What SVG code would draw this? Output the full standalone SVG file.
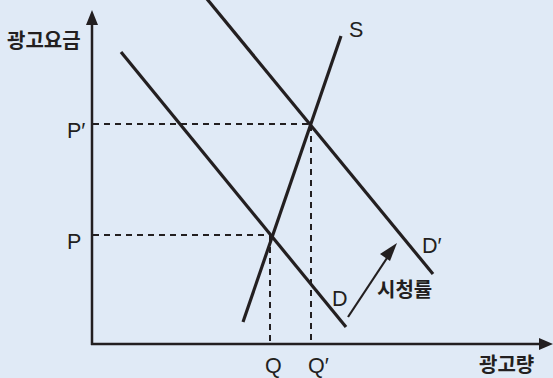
<svg xmlns="http://www.w3.org/2000/svg" width="553" height="378" viewBox="0 0 553 378">
<defs>
<style>
.ax{stroke:#231f20;stroke-width:2.5;fill:none}
.cv{stroke:#231f20;stroke-width:3.2;fill:none;stroke-linecap:butt}
.ds{stroke:#231f20;stroke-width:2;fill:none;stroke-dasharray:6 5}
.lb{font-family:"Liberation Sans",Arial,sans-serif;font-size:21.5px;fill:#231f20}
.kr{font-family:"Noto Sans CJK KR","Noto Sans",sans-serif;font-size:20px;font-weight:bold;fill:#231f20}
.ah{fill:#231f20}
</style>
</defs>
<rect width="553" height="378" fill="#e0eaf6"/>
<g id="connectors">
<line class="ax" x1="92" y1="22" x2="92" y2="345"/>
<polygon class="ah" points="92,10 86,25 98,25"/>
<line class="ax" x1="91" y1="344" x2="542" y2="344"/>
<polygon class="ah" points="553,344 539,338 539,350"/>
<line class="ds" x1="93" y1="124" x2="311" y2="124"/>
<line class="ds" x1="93" y1="235" x2="271" y2="235"/>
<line class="ds" x1="270" y1="236" x2="270" y2="343"/>
<line class="ds" x1="311" y1="125" x2="311" y2="343"/>
<line stroke="#231f20" stroke-width="2.2" x1="348" y1="317" x2="389" y2="255"/>
<polygon class="ah" points="397,243 380,254 390,261"/>
</g>
<g id="curve-D"><line class="cv" x1="121" y1="52" x2="346" y2="327"/></g>
<g id="curve-D2"><line class="cv" x1="207" y1="-1" x2="433" y2="274"/></g>
<g id="curve-S"><line class="cv" x1="341" y1="36" x2="243" y2="322"/></g>
<g id="labels">
<text class="kr" x="7" y="48">광고요금</text>
<text class="lb" x="67" y="138">P′</text>
<text class="lb" x="67" y="249">P</text>
<text class="lb" x="265" y="373">Q</text>
<text class="lb" x="308" y="373">Q′</text>
<text class="lb" x="349" y="37">S</text>
<text class="lb" x="332" y="306">D</text>
<text class="lb" x="422" y="253">D′</text>
<text class="kr" x="377" y="297">시청률</text>
<text class="kr" x="479" y="372">광고량</text>
</g>
</svg>
